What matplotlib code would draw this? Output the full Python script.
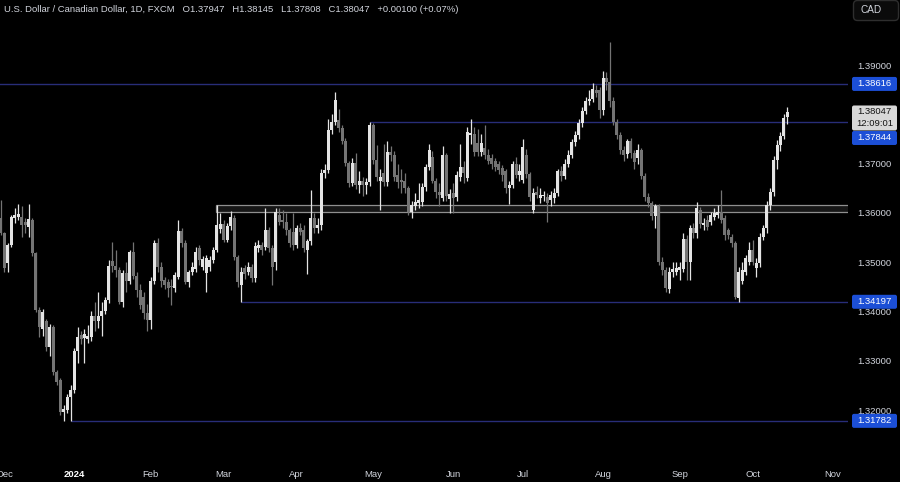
import matplotlib.pyplot as plt
import matplotlib.patches as mpatches
import matplotlib.transforms as mtransforms
import numpy as np
import pandas as pd

# daily candles USD/CAD (open, high, low, close)
nov_2023 = [(1.3589, 1.3626, 1.3555, 1.3559)]
dec_2023 = [
    (1.3559, 1.3562, 1.3481, 1.3488), (1.3498, 1.3538, 1.3480, 1.3535), (1.3535, 1.3595, 1.3530, 1.3592),
    (1.3589, 1.3610, 1.3580, 1.3595), (1.3591, 1.3618, 1.3585, 1.3597), (1.3592, 1.3613, 1.3552, 1.3576),
    (1.3582, 1.3590, 1.3560, 1.3576), (1.3572, 1.3618, 1.3552, 1.3587), (1.3586, 1.3590, 1.3512, 1.3518),
    (1.3518, 1.3520, 1.3398, 1.3403), (1.3403, 1.3410, 1.3349, 1.3369), (1.3365, 1.3405, 1.3350, 1.3398),
    (1.3380, 1.3385, 1.3320, 1.3329), (1.3329, 1.3375, 1.3309, 1.3368), (1.3368, 1.3372, 1.3272, 1.3278),
    (1.3278, 1.3282, 1.3250, 1.3258), (1.3261, 1.3265, 1.3190, 1.3197), (1.3197, 1.3210, 1.3178, 1.3203),
    (1.3201, 1.3233, 1.3195, 1.3227), (1.3227, 1.3250, 1.3178, 1.3241),
]
jan_2024 = [
    (1.3241, 1.3325, 1.3235, 1.3319), (1.3319, 1.3368, 1.3295, 1.3349), (1.3352, 1.3360, 1.3335, 1.3345),
    (1.3347, 1.3365, 1.3295, 1.3354), (1.3344, 1.3372, 1.3336, 1.3350), (1.3349, 1.3402, 1.3340, 1.3390),
    (1.3390, 1.3420, 1.3360, 1.3380), (1.3380, 1.3440, 1.3366, 1.3391), (1.3391, 1.3420, 1.3350, 1.3400),
    (1.3400, 1.3430, 1.3395, 1.3423), (1.3423, 1.3505, 1.3418, 1.3493), (1.3503, 1.3541, 1.3480, 1.3492),
    (1.3492, 1.3525, 1.3470, 1.3484), (1.3484, 1.3490, 1.3415, 1.3420), (1.3420, 1.3485, 1.3410, 1.3478),
    (1.3478, 1.3500, 1.3440, 1.3461), (1.3461, 1.3525, 1.3455, 1.3521), (1.3521, 1.3540, 1.3465, 1.3472),
    (1.3472, 1.3480, 1.3430, 1.3444), (1.3444, 1.3455, 1.3405, 1.3413), (1.3430, 1.3440, 1.3385, 1.3397),
    (1.3397, 1.3415, 1.3360, 1.3383),
]
feb_2024 = [
    (1.3383, 1.3470, 1.3365, 1.3461), (1.3461, 1.3545, 1.3455, 1.3538), (1.3538, 1.3550, 1.3480, 1.3491),
    (1.3491, 1.3500, 1.3450, 1.3461), (1.3463, 1.3470, 1.3445, 1.3454), (1.3460, 1.3465, 1.3430, 1.3447),
    (1.3452, 1.3465, 1.3413, 1.3449), (1.3447, 1.3480, 1.3440, 1.3474), (1.3470, 1.3585, 1.3465, 1.3563),
    (1.3563, 1.3570, 1.3530, 1.3538), (1.3538, 1.3545, 1.3455, 1.3460), (1.3460, 1.3485, 1.3450, 1.3480),
    (1.3480, 1.3500, 1.3475, 1.3491), (1.3487, 1.3530, 1.3480, 1.3521), (1.3528, 1.3535, 1.3495, 1.3504),
    (1.3490, 1.3512, 1.3485, 1.3506), (1.3478, 1.3515, 1.3440, 1.3508), (1.3490, 1.3512, 1.3483, 1.3504),
    (1.3504, 1.3530, 1.3498, 1.3525), (1.3525, 1.3616, 1.3520, 1.3575), (1.3568, 1.3600, 1.3560, 1.3578),
]
mar_2024 = [
    (1.3578, 1.3585, 1.3540, 1.3545), (1.3545, 1.3580, 1.3540, 1.3573), (1.3573, 1.3603, 1.3565, 1.3591),
    (1.3589, 1.3595, 1.3505, 1.3511), (1.3511, 1.3515, 1.3450, 1.3460), (1.3454, 1.3490, 1.3420, 1.3481),
    (1.3488, 1.3495, 1.3465, 1.3477), (1.3481, 1.3500, 1.3475, 1.3491), (1.3491, 1.3496, 1.3460, 1.3467),
    (1.3467, 1.3540, 1.3460, 1.3532), (1.3528, 1.3545, 1.3520, 1.3535), (1.3535, 1.3540, 1.3515, 1.3525),
    (1.3531, 1.3609, 1.3525, 1.3565), (1.3565, 1.3572, 1.3520, 1.3528), (1.3528, 1.3535, 1.3454, 1.3491),
    (1.3500, 1.3610, 1.3485, 1.3602), (1.3596, 1.3610, 1.3575, 1.3582), (1.3586, 1.3605, 1.3570, 1.3582),
    (1.3582, 1.3600, 1.3555, 1.3565), (1.3565, 1.3570, 1.3530, 1.3538), (1.3562, 1.3600, 1.3525, 1.3535),
]
apr_2024 = [
    (1.3535, 1.3575, 1.3528, 1.3569), (1.3569, 1.3580, 1.3555, 1.3562), (1.3565, 1.3575, 1.3520, 1.3528),
    (1.3525, 1.3548, 1.3477, 1.3542), (1.3542, 1.3646, 1.3535, 1.3589), (1.3589, 1.3600, 1.3560, 1.3569),
    (1.3569, 1.3590, 1.3560, 1.3575), (1.3575, 1.3690, 1.3565, 1.3680), (1.3680, 1.3700, 1.3670, 1.3687),
    (1.3687, 1.3790, 1.3680, 1.3768), (1.3768, 1.3800, 1.3760, 1.3785), (1.3785, 1.3846, 1.3778, 1.3829),
    (1.3789, 1.3810, 1.3765, 1.3772), (1.3772, 1.3778, 1.3740, 1.3745), (1.3745, 1.3752, 1.3695, 1.3701),
    (1.3701, 1.3706, 1.3652, 1.3660), (1.3660, 1.3712, 1.3655, 1.3702), (1.3702, 1.3722, 1.3648, 1.3657),
    (1.3657, 1.3685, 1.3640, 1.3664), (1.3664, 1.3672, 1.3635, 1.3657), (1.3657, 1.3670, 1.3638, 1.3663),
    (1.3663, 1.3785, 1.3655, 1.3779),
]
may_2024 = [
    (1.3778, 1.3783, 1.3700, 1.3707), (1.3707, 1.3738, 1.3665, 1.3673), (1.3664, 1.3690, 1.3606, 1.3673),
    (1.3680, 1.3740, 1.3655, 1.3663), (1.3663, 1.3745, 1.3655, 1.3724), (1.3724, 1.3735, 1.3705, 1.3717),
    (1.3717, 1.3725, 1.3665, 1.3673), (1.3677, 1.3700, 1.3650, 1.3663), (1.3667, 1.3690, 1.3640, 1.3662),
    (1.3664, 1.3680, 1.3640, 1.3650), (1.3650, 1.3655, 1.3596, 1.3602), (1.3602, 1.3625, 1.3590, 1.3616),
    (1.3614, 1.3640, 1.3605, 1.3623), (1.3620, 1.3660, 1.3610, 1.3627), (1.3623, 1.3660, 1.3615, 1.3653),
    (1.3653, 1.3700, 1.3645, 1.3694), (1.3694, 1.3740, 1.3688, 1.3728), (1.3713, 1.3725, 1.3660, 1.3664),
    (1.3664, 1.3670, 1.3630, 1.3643), (1.3643, 1.3660, 1.3615, 1.3636), (1.3630, 1.3735, 1.3625, 1.3717),
    (1.3717, 1.3722, 1.3625, 1.3635), (1.3628, 1.3648, 1.3600, 1.3638),
]
jun_2024 = [
    (1.3640, 1.3660, 1.3599, 1.3630), (1.3632, 1.3685, 1.3625, 1.3677), (1.3673, 1.3740, 1.3665, 1.3694),
    (1.3694, 1.3705, 1.3660, 1.3680), (1.3670, 1.3775, 1.3665, 1.3765), (1.3758, 1.3791, 1.3740, 1.3762),
    (1.3760, 1.3775, 1.3715, 1.3724), (1.3741, 1.3770, 1.3715, 1.3724), (1.3724, 1.3760, 1.3715, 1.3741),
    (1.3731, 1.3778, 1.3710, 1.3717), (1.3717, 1.3730, 1.3700, 1.3706), (1.3712, 1.3720, 1.3690, 1.3700),
    (1.3705, 1.3712, 1.3685, 1.3693), (1.3700, 1.3706, 1.3678, 1.3687), (1.3692, 1.3698, 1.3665, 1.3677),
    (1.3685, 1.3690, 1.3640, 1.3650), (1.3650, 1.3665, 1.3619, 1.3657), (1.3657, 1.3705, 1.3650, 1.3699),
    (1.3699, 1.3714, 1.3670, 1.3677), (1.3677, 1.3700, 1.3665, 1.3685),
]
jul_2024 = [
    (1.3667, 1.3750, 1.3660, 1.3734), (1.3718, 1.3730, 1.3670, 1.3678), (1.3678, 1.3682, 1.3625, 1.3633),
    (1.3606, 1.3650, 1.3600, 1.3640), (1.3643, 1.3655, 1.3630, 1.3637), (1.3630, 1.3650, 1.3620, 1.3637),
    (1.3634, 1.3645, 1.3625, 1.3637), (1.3633, 1.3640, 1.3582, 1.3620), (1.3626, 1.3645, 1.3615, 1.3636),
    (1.3630, 1.3650, 1.3620, 1.3640), (1.3640, 1.3690, 1.3635, 1.3684), (1.3684, 1.3695, 1.3665, 1.3675),
    (1.3675, 1.3710, 1.3668, 1.3700), (1.3700, 1.3728, 1.3694, 1.3718), (1.3718, 1.3750, 1.3712, 1.3743),
    (1.3743, 1.3766, 1.3735, 1.3758), (1.3758, 1.3790, 1.3750, 1.3782), (1.3782, 1.3815, 1.3775, 1.3807),
    (1.3806, 1.3835, 1.3800, 1.3826), (1.3826, 1.3850, 1.3818, 1.3832), (1.3832, 1.3863, 1.3825, 1.3852),
    (1.3850, 1.3860, 1.3835, 1.3843), (1.3849, 1.3855, 1.3792, 1.3809),
]
aug_2024 = [
    (1.3809, 1.3888, 1.3798, 1.3873), (1.3873, 1.3885, 1.3850, 1.3866), (1.3866, 1.3947, 1.3815, 1.3826),
    (1.3826, 1.3835, 1.3778, 1.3785), (1.3785, 1.3790, 1.3750, 1.3758), (1.3758, 1.3765, 1.3720, 1.3728),
    (1.3728, 1.3735, 1.3705, 1.3718), (1.3720, 1.3750, 1.3712, 1.3745), (1.3745, 1.3752, 1.3712, 1.3721),
    (1.3721, 1.3728, 1.3690, 1.3704), (1.3711, 1.3740, 1.3700, 1.3728), (1.3728, 1.3732, 1.3668, 1.3674),
    (1.3674, 1.3680, 1.3625, 1.3633), (1.3633, 1.3640, 1.3612, 1.3620), (1.3620, 1.3625, 1.3585, 1.3593),
    (1.3593, 1.3618, 1.3569, 1.3613), (1.3613, 1.3618, 1.3495, 1.3501), (1.3501, 1.3510, 1.3475, 1.3484),
    (1.3484, 1.3490, 1.3440, 1.3447), (1.3445, 1.3490, 1.3437, 1.3481), (1.3480, 1.3500, 1.3470, 1.3486),
    (1.3481, 1.3500, 1.3475, 1.3488),
]
sep_2024 = [
    (1.3484, 1.3500, 1.3464, 1.3491), (1.3487, 1.3560, 1.3480, 1.3548), (1.3548, 1.3555, 1.3464, 1.3501),
    (1.3501, 1.3575, 1.3464, 1.3569), (1.3569, 1.3580, 1.3550, 1.3559), (1.3559, 1.3623, 1.3550, 1.3609),
    (1.3606, 1.3612, 1.3570, 1.3578), (1.3575, 1.3590, 1.3565, 1.3580), (1.3585, 1.3595, 1.3565, 1.3572),
    (1.3582, 1.3602, 1.3575, 1.3596), (1.3592, 1.3610, 1.3585, 1.3599), (1.3596, 1.3616, 1.3590, 1.3602),
    (1.3602, 1.3646, 1.3580, 1.3585), (1.3589, 1.3595, 1.3545, 1.3555), (1.3565, 1.3570, 1.3548, 1.3555),
    (1.3552, 1.3558, 1.3530, 1.3538), (1.3538, 1.3542, 1.3425, 1.3430), (1.3427, 1.3490, 1.3420, 1.3481),
    (1.3461, 1.3500, 1.3455, 1.3484), (1.3481, 1.3515, 1.3475, 1.3508), (1.3501, 1.3540, 1.3495, 1.3525),
]
oct_2024 = [
    (1.3525, 1.3545, 1.3495, 1.3500), (1.3488, 1.3508, 1.3470, 1.3498), (1.3498, 1.3560, 1.3490, 1.3552),
    (1.3552, 1.3575, 1.3545, 1.3569), (1.3569, 1.3625, 1.3560, 1.3616), (1.3616, 1.3650, 1.3605, 1.3643),
    (1.3643, 1.3715, 1.3635, 1.3707), (1.3707, 1.3748, 1.3690, 1.3738), (1.3738, 1.3765, 1.3725, 1.3755),
    (1.3755, 1.3800, 1.3750, 1.3792), (1.37947, 1.38145, 1.37808, 1.38047),
]

# horizontal levels (price, first day of the line)
level_prices = [1.38616, 1.37844, 1.34197, 1.31782]
level_starts = ["2023-11-30", "2024-04-30", "2024-03-08", "2023-12-29"]
zone_low, zone_high, zone_start = 1.3601, 1.3616, "2024-02-28"
# 1.38000 sits under the last-price label, so it is not shown
price_ticks = [1.32, 1.33, 1.34, 1.35, 1.36, 1.37, 1.39]
month_names = ["Dec", "2024", "Feb", "Mar", "Apr", "May", "Jun", "Jul", "Aug", "Sep", "Oct", "Nov"]
header = ("U.S. Dollar / Canadian Dollar, 1D, FXCM   O1.37947   H1.38145   "
          "L1.37808   C1.38047   +0.00100 (+0.07%)")
last_price, countdown = 1.38047, "12:09:01"

UP, DOWN = "#e4e4e4", "#747474"
LINE, TAG = "#282d78", "#1c4fd6"
TXT = "#d1d4dc"
FS = 6.8

plt.rcParams["font.family"] = ["Liberation Sans", "DejaVu Sans"]

candles = np.array(nov_2023 + dec_2023 + jan_2024 + feb_2024 + mar_2024 + apr_2024
                   + may_2024 + jun_2024 + jul_2024 + aug_2024 + sep_2024 + oct_2024)
o, h, l, c = candles.T

# trading days (no bars on Dec 25 / Jan 1), extended into the future for the Nov tick
days = pd.bdate_range("2023-11-30", "2024-11-29")
days = days[~days.isin(pd.to_datetime(["2023-12-25", "2024-01-01"]))]
pos = {d: i for i, d in enumerate(days)}
x = np.arange(len(candles))

fig = plt.figure(figsize=(9, 4.82), dpi=100, facecolor="black")
ax = fig.add_axes([0, 22 / 482, 848 / 900, 460 / 482])
ax.set_facecolor("black")
xlim = (-0.28, 243.4)
ax.set_xlim(*xlim)
ax.set_ylim(1.309878, 1.403185)
for s in ax.spines.values():
    s.set_visible(False)

# support / resistance
zs = pos[pd.Timestamp(zone_start)] - 0.35
ax.add_patch(mpatches.Rectangle((zs, zone_low), xlim[1] + 5 - zs, zone_high - zone_low,
                                facecolor="#161616", edgecolor="#8f8f8f", lw=0.9, zorder=1))
for p, d in zip(level_prices, level_starts):
    start = -5 if d == level_starts[0] else pos[pd.Timestamp(d)]
    ax.hlines(p, start, xlim[1] + 5, color=LINE, lw=1.0, zorder=2)

# candles
up = c >= o
col = np.where(up, UP, DOWN)
ax.vlines(x, l, h, colors=col, lw=0.9, zorder=3)
ax.bar(x, np.maximum(np.abs(c - o), 0.00006), bottom=np.minimum(o, c), width=0.86,
       color=col, lw=0, zorder=4)

# axes
month_pos = []
for m in range(12):
    yr, mo = (2023, 12) if m == 0 else (2024, m)
    first = days[(days.year == yr) & (days.month == mo)][0]
    month_pos.append(pos[first])
ax.set_xticks(month_pos)
ax.set_xticklabels(month_names)
ax.tick_params(axis="x", length=0, pad=7, labelsize=FS, colors=TXT)
ax.get_xticklabels()[1].set_color("white")
ax.get_xticklabels()[1].set_fontweight("bold")

ax.yaxis.tick_right()
ax.set_yticks(price_ticks)
ax.set_yticklabels([f"{t:.5f}" for t in price_ticks])
ax.tick_params(axis="y", length=0, pad=7, labelsize=FS, colors=TXT)

# price tags, pixel coordinates from the top-left corner
px = mtransforms.Affine2D().scale(1 / 900, -1 / 482).translate(0, 1) + fig.transFigure


def y_pix(price):
    return 482 - ax.transData.transform((0, price))[1]


def tag(yc, label, fc, tc, hgt=14):
    fig.add_artist(mpatches.FancyBboxPatch((852, yc - hgt / 2), 45, hgt,
                                           boxstyle="round,pad=0,rounding_size=2",
                                           fc=fc, ec="none", transform=px, zorder=5))
    fig.text(874.5 / 900, 1 - yc / 482, label, color=tc, fontsize=FS, ha="center",
             va="center", zorder=6)


yl = y_pix(last_price)
fig.add_artist(mpatches.FancyBboxPatch((852, yl - 6.5), 45, 25, boxstyle="round,pad=0,rounding_size=2",
                                       fc="#d8d8d8", ec="none", transform=px, zorder=5))
fig.text(874.5 / 900, 1 - yl / 482, f"{last_price:.5f}", color="#131313", fontsize=FS,
         ha="center", va="center", zorder=6)
fig.text(874.5 / 900, 1 - (yl + 12) / 482, countdown, color="#131313", fontsize=FS,
         ha="center", va="center", zorder=6)

for p in level_prices:
    yc = y_pix(p)
    if p == 1.37844:
        yc = yl + 26  # pushed below the last price label
    tag(yc, f"{p:.5f}", TAG, "white")

# currency button
fig.add_artist(mpatches.FancyBboxPatch((853.5, 0.5), 45, 20, boxstyle="round,pad=0,rounding_size=4",
                                       fc="#0b0b0b", ec="#2e2e2e", lw=1, transform=px, zorder=5))
fig.text(871 / 900, 1 - 10 / 482, "CAD", color=TXT, fontsize=FS + 0.4, ha="center",
         va="center", zorder=6)

fig.text(4 / 900, 1 - 10 / 482, header, color=TXT, fontsize=FS, ha="left", va="center")

fig.savefig("out.png", dpi=100, facecolor="black")
